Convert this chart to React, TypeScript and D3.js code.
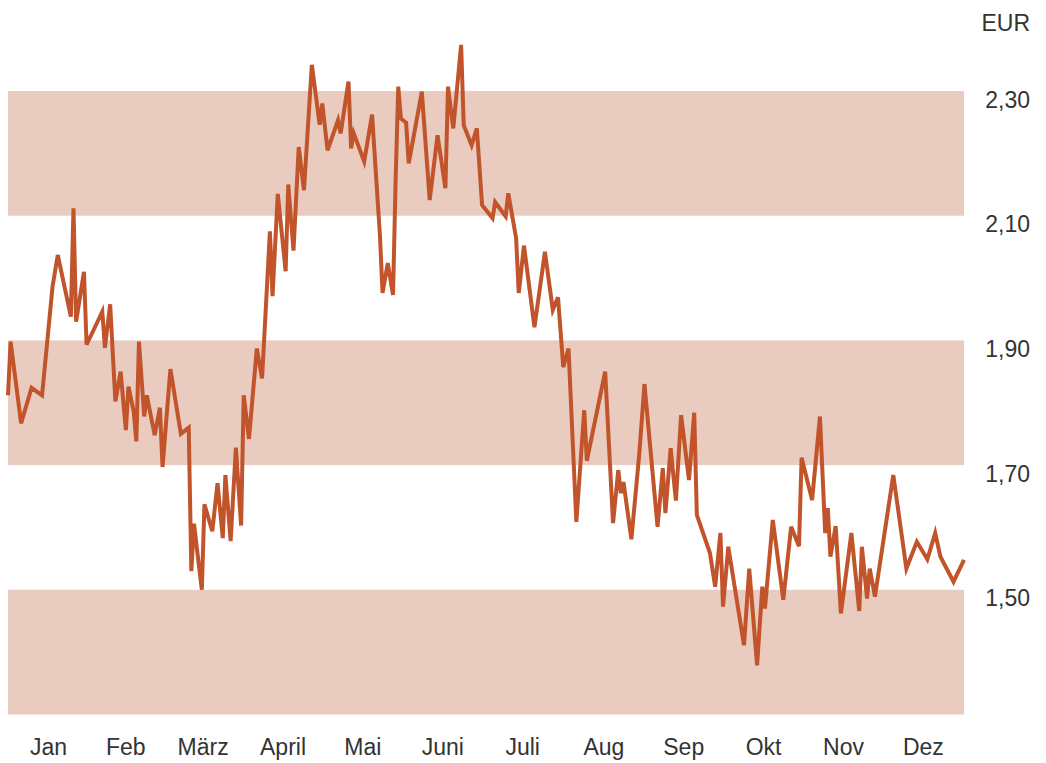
import * as d3 from 'd3';

// share price over one year, EUR (day of year, closing price)
const tradingDays = [
  0, 1, 5, 9, 13, 17, 19, 24, 25, 26, 29, 30, 36, 37, 39, 41, 43, 45, 46, 48,
  49, 50, 52, 53, 56, 58, 59, 62, 66, 69, 70, 71, 74, 75, 78, 80, 82, 83, 85, 87,
  89, 90, 92, 95, 97, 100, 101, 103, 106, 107, 109, 111, 113, 116, 119, 120, 122, 126, 127, 130,
  131, 132, 136, 139, 142, 143, 145, 147, 148, 149, 150, 152, 153, 158, 161, 164, 167, 168, 170, 173,
  174, 177, 179, 181, 185, 186, 190, 191, 194, 195, 197, 201, 205, 208, 210, 212, 214, 217, 220, 221,
  228, 231, 233, 234, 235, 238, 241, 243, 248, 250, 251, 253, 255, 257, 260, 262, 263, 268, 270, 272,
  273, 275, 281, 283, 286, 288, 289, 292, 296, 299, 302, 303, 307, 310, 312, 313, 314, 316, 318, 322,
  325, 326, 328, 329, 331, 338, 343, 347, 351, 354, 356, 361, 365,
];
const prices = [
  1.812, 1.898, 1.767, 1.824, 1.812, 1.986, 2.037, 1.938, 2.112, 1.930, 2.010, 1.893, 1.946, 1.888, 1.958, 1.802, 1.850, 1.756, 1.826, 1.786,
  1.738, 1.898, 1.778, 1.812, 1.748, 1.792, 1.697, 1.854, 1.750, 1.760, 1.530, 1.606, 1.500, 1.637, 1.594, 1.671, 1.583, 1.684, 1.578, 1.728,
  1.603, 1.812, 1.742, 1.887, 1.839, 2.075, 1.971, 2.135, 2.011, 2.150, 2.044, 2.210, 2.141, 2.342, 2.246, 2.280, 2.205, 2.253, 2.232, 2.315,
  2.208, 2.232, 2.187, 2.262, 2.069, 1.976, 2.024, 1.973, 2.157, 2.307, 2.256, 2.249, 2.184, 2.299, 2.125, 2.229, 2.144, 2.307, 2.240, 2.374,
  2.245, 2.213, 2.240, 2.117, 2.096, 2.122, 2.099, 2.136, 2.064, 1.976, 2.052, 1.921, 2.042, 1.949, 1.969, 1.857, 1.887, 1.609, 1.788, 1.707,
  1.850, 1.607, 1.692, 1.655, 1.673, 1.581, 1.717, 1.830, 1.601, 1.695, 1.623, 1.727, 1.643, 1.780, 1.676, 1.784, 1.620, 1.559, 1.505, 1.591,
  1.473, 1.569, 1.411, 1.534, 1.379, 1.505, 1.470, 1.612, 1.484, 1.601, 1.570, 1.712, 1.644, 1.778, 1.591, 1.631, 1.553, 1.602, 1.462, 1.591,
  1.466, 1.569, 1.486, 1.534, 1.489, 1.684, 1.534, 1.577, 1.549, 1.591, 1.553, 1.513, 1.548,
];

const months = ['Jan', 'Feb', 'März', 'April', 'Mai', 'Juni', 'Juli', 'Aug', 'Sep', 'Okt', 'Nov', 'Dez'];
const yTicks = [1.5, 1.7, 1.9, 2.1, 2.3];
const bands: [number, number][] = [[1.3, 1.5], [1.7, 1.9], [2.1, 2.3]];
const unit = 'EUR';

const W = 1046;
const H = 763;
const YEAR = 2023;
const FONT = '"Liberation Sans", Arial, Helvetica, sans-serif';
const TEXT = '#333333';
const BAND = '#eacbbf';
const LINE = '#c2542c';

const dayToDate = (d: number) => new Date(Date.UTC(YEAR, 0, 1 + d));
const de = d3.formatLocale({ decimal: ',', thousands: '.', grouping: [3], currency: ['', ' €'] });
const fmt = de.format('.2f');

export default function App() {
  const x = d3.scaleUtc([new Date(Date.UTC(YEAR, 0, 1)), new Date(Date.UTC(YEAR + 1, 0, 1))], [8, 964]);
  const y = d3.scaleLinear([1.3, 2.3], [714.5, 91]);

  const points = tradingDays.map((d, i) => ({ date: dayToDate(d), v: prices[i] }));
  const line = d3.line<{ date: Date; v: number }>().x(d => x(d.date)).y(d => y(d.v));

  const [x0, x1] = x.range();

  return (
    <svg width={W} height={H} style={{ position: 'absolute', left: 0, top: 0, background: '#fff' }}
      fontFamily={FONT}>
      {/* alternating bands */}
      {bands.map(([lo, hi]) => (
        <rect key={lo} x={x0} width={x1 - x0} y={y(hi)} height={y(lo) - y(hi)} fill={BAND} />
      ))}

      {/* price line */}
      <path d={line(points) ?? ''} fill="none" stroke={LINE} strokeWidth={4} strokeLinejoin="miter" />

      {/* y labels hang below their tick */}
      {yTicks.map(t => (
        <text key={t} x={1030} y={y(t) + 16.5} textAnchor="end" fontSize={23} fill={TEXT}>{fmt(t)}</text>
      ))}
      <text x={1030} y={31} textAnchor="end" fontSize={23} fill={TEXT}>{unit}</text>

      {/* month labels centred in each month */}
      {months.map((m, i) => {
        const a = new Date(Date.UTC(YEAR, i, 1));
        const b = new Date(Date.UTC(YEAR, i + 1, 1));
        return (
          <text key={m} x={(x(a) + x(b)) / 2} y={755} textAnchor="middle" fontSize={23} fill={TEXT}>{m}</text>
        );
      })}
    </svg>
  );
}
